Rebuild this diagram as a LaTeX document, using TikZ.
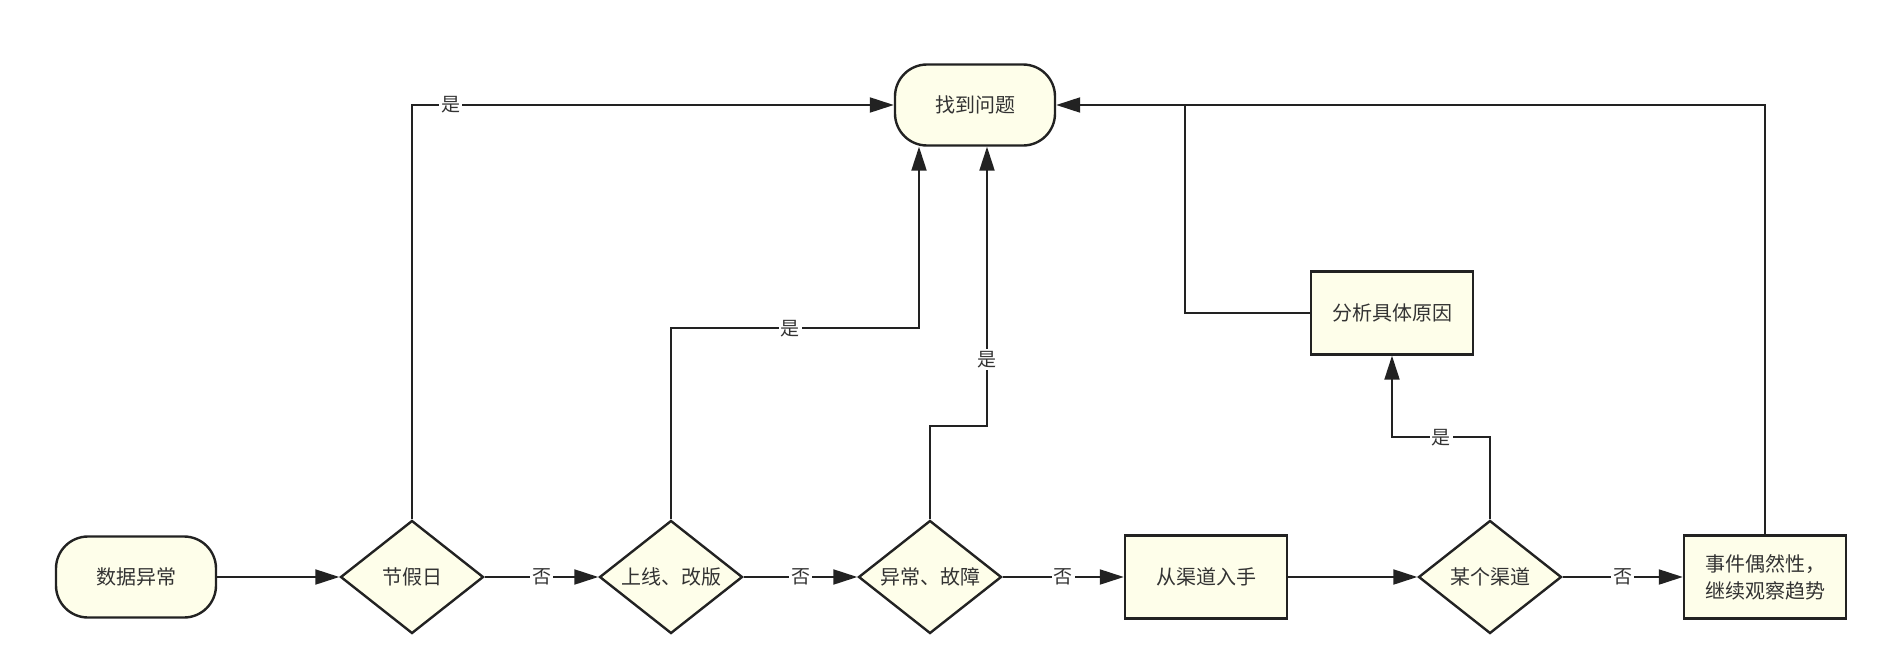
\documentclass[tikz,border=0pt]{standalone}
\usepackage{fontspec}
\setmainfont{Noto Sans CJK SC}
\usetikzlibrary{shapes,arrows.meta}
\definecolor{boxfill}{RGB}{254,254,234}
\definecolor{ink}{RGB}{34,34,34}
\definecolor{txt}{RGB}{51,51,51}

\begin{document}
\begin{tikzpicture}[x=0.5pt, y=-0.5pt, text=txt,
	font=\fontsize{10pt}{13.5pt}\selectfont,
	terminal/.style={draw=ink, fill=boxfill, line width=1.2pt, rounded corners=16pt, minimum width=80pt, minimum height=40.5pt},
	process/.style={draw=ink, fill=boxfill, line width=1.2pt, minimum width=81pt, minimum height=41.5pt, align=center},
	decision/.style={draw=ink, fill=boxfill, line width=1.2pt, diamond, aspect=1.27, inner sep=0pt, minimum width=71.5pt, minimum height=56.5pt},
	flow/.style={draw=ink, line width=1pt, -{Triangle[length=12pt,width=7.5pt]}},
	link/.style={draw=ink, line width=1pt},
	answer/.style={fill=white, inner sep=1pt, font=\fontsize{9.5pt}{11pt}\selectfont}]
\def \rowy {577}
\def \topy {105}

\useasboundingbox (0,0) rectangle (1885,653);

%Main row
\node[terminal] (start) at (136,\rowy) {数据异常};
\node[decision] (holiday) at (412,\rowy) {节假日};
\node[decision] (release) at (671,\rowy) {上线、改版};
\node[decision] (fault) at (930,\rowy) {异常、故障};
\node[process] (channel) at (1206,\rowy) {从渠道入手};
\node[decision] (onechan) at (1490,\rowy) {某个渠道};
\node[process] (chance) at (1765,\rowy) {事件偶然性，\\继续观察趋势};

%Upper nodes
\node[process] (analyse) at (1392,313) {分析具体原因};
\node[terminal] (found) at (975,\topy) {找到问题};
\coordinate (join) at ([xshift=64.5pt]found.east);

%No branches
\draw[flow] (start) -- (holiday);
\draw[flow] (holiday) -- node[answer] {否} (release);
\draw[flow] (release) -- node[answer] {否} (fault);
\draw[flow] (fault) -- node[answer] {否} (channel);
\draw[flow] (channel) -- (onechan);
\draw[flow] (onechan) -- node[answer] {否} (chance);

%Yes branches
\draw[flow] (holiday.north) |- node[answer, pos=0.54] {是} (found.west);
\draw[flow] (release.north) -- ++(0,-191) -| node[answer, pos=0.24] {是} ([xshift=-28pt]found.south);
\draw[flow] (fault.north) -- ++(0,-93) -| node[answer, pos=0.62] {是} ([xshift=6pt]found.south);
\draw[flow] (onechan.north) -- ++(0,-82) -| node[answer, pos=0.25] {是} (analyse.south);

%Back to found
\draw[flow] (chance.north) |- (found.east);
\draw[link] (analyse.west) -| (join);

\end{tikzpicture}
\end{document}
